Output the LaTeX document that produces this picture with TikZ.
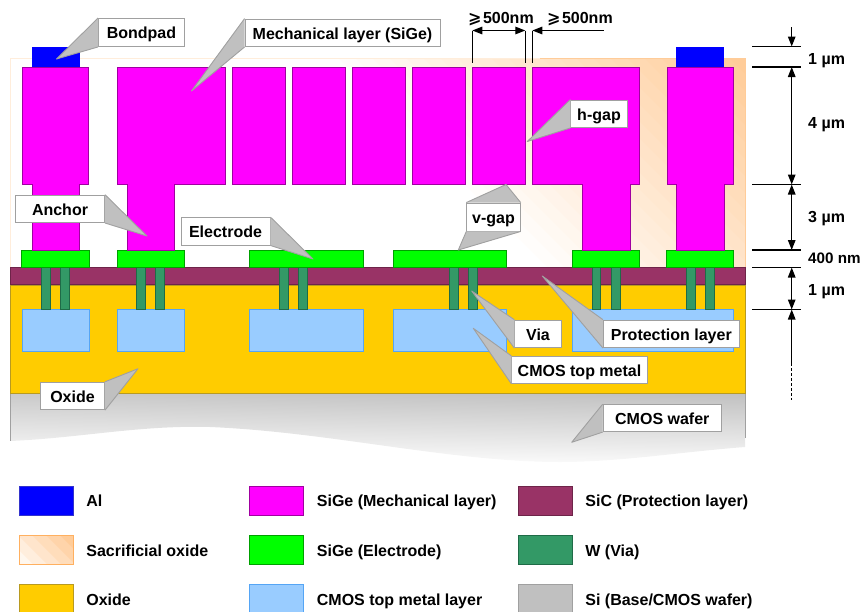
\documentclass[tikz,border=0pt]{standalone}
\usepackage{amsmath}
\usepackage{amssymb}
\usepackage{fontspec}
\setmainfont{Liberation Sans}
\newfontfamily\symbfont{DejaVu Sans}
\usetikzlibrary{arrows.meta,shadings}
\definecolor{mech}{HTML}{FF00FF}
\definecolor{mechline}{HTML}{A000A0}
\definecolor{elec}{HTML}{00FF00}
\definecolor{elecline}{HTML}{00A000}
\definecolor{oxide}{HTML}{FFCC00}
\definecolor{oxideline}{HTML}{B89A20}
\definecolor{metal}{HTML}{99CCFF}
\definecolor{metalline}{HTML}{55A5F5}
\definecolor{sic}{HTML}{993366}
\definecolor{sicline}{HTML}{6E2449}
\definecolor{via}{HTML}{339966}
\definecolor{vialine}{HTML}{1F6B47}
\definecolor{si}{HTML}{C0C0C0}
\definecolor{tagline}{HTML}{A0A0A0}
\definecolor{sacr}{HTML}{FFCC99}
\definecolor{sacrline}{HTML}{FFB060}
\tikzset{
	lab/.style={font=\fontsize{16}{18}\selectfont\bfseries, inner sep=0pt, anchor=west, text height=14pt, text depth=1.4pt},
	tag/.style={draw=tagline, fill=white, line width=0.9pt, inner sep=0pt, font=\fontsize{16}{18}\selectfont\bfseries, text height=14pt, text depth=1.4pt},
	wedge/.style={draw=tagline, fill=si, line width=0.9pt, line join=round},
	tick/.style={line width=1.3pt},
	dim/.style={line width=1.3pt, {Triangle[length=10pt,width=7.5pt]}-{Triangle[length=10pt,width=7.5pt]}},
	swatch/.style={minimum width=54pt, minimum height=29pt, inner sep=0pt, line width=1pt},
}
\begin{document}
\begin{tikzpicture}[x=1pt, y=-1pt]
	\useasboundingbox (0,0) rectangle (861,611);
	% layers
	\begin{scope}
		\clip (10,58.5) rectangle (745,267);
		\foreach \k in {1,...,24} {
			\pgfmathsetmacro{\dd}{280+(\k-1)*17}
			\pgfmathsetmacro{\pct}{\k*100/24}
			\fill[sacr!\pct] (\dd+58.5,58.5) -- (\dd+267,267) -- (800,267) -- (800,58.5) -- cycle;
		}
	\end{scope}
	\draw[sacr!35, line width=0.7pt] (10,267) -- (10,58.5) -- (540,58.5);
	\draw[sacr, line width=0.7pt] (540,58.5) -- (745,58.5) -- (745,267);
	\begin{scope}
		\clip (10,393) -- (745,393) -- (745,447) .. controls (680,452) and (620,462) .. (560,462) .. controls (450,462) and (330,432) .. (210,427) .. controls (140,425) and (80,438) .. (10,441) -- cycle;
		\shade[upper left=si!85, upper right=si, lower left=white, lower right=si!8] (10,393) rectangle (745,465);
	\end{scope}
	\draw[tagline, line width=0.8pt] (10,393) -- (10,441);
	\draw[tagline, line width=0.8pt] (745,393) -- (745,438);
	\draw[fill=oxide, draw=oxideline, line width=0.7pt] (10,285) rectangle (745,393);
	\draw[fill=sic, draw=sicline, line width=0.7pt] (10,267.5) rectangle (745,284.5);
	% metal
	\foreach \xa/\xb in {22/89, 117/184, 249.5/363, 393.5/506.7, 572.3/733}
		\draw[fill=metal, draw=metalline, line width=0.8pt] (\xa,309.5) rectangle (\xb,351.5);
	% vias
	\foreach \xa in {41.5, 60.5, 136.5, 155.5, 279.5, 298.5, 449.5, 468.5, 592, 611.5, 686.5, 705.5}
		\draw[fill=via, draw=vialine, line width=0.8pt] (\xa,267.5) rectangle (\xa+8.5,309.5);
	% electrodes
	\foreach \xa/\xb in {21.5/89, 117/184, 249.5/363.5, 393/506.7, 572.3/639.7, 666.7/733.7}
		\draw[fill=elec, draw=elecline, line width=0.8pt] (\xa,250.5) rectangle (\xb,267.5);
	% mechanical layer
	\foreach \xa/\xb/\xc/\xd in {22.5/32/79/88, 117/127/174/225.5, 532.3/582.7/630/639, 667.3/676.7/724/733}
		\draw[fill=mech, draw=mechline, line width=0.8pt] (\xa,67) -- (\xd,67) -- (\xd,184.5) -- (\xc,184.5) -- (\xc,250.5) -- (\xb,250.5) -- (\xb,184.5) -- (\xa,184.5) -- cycle;
	\foreach \xa/\xb in {232.5/285.5, 292.5/345.5, 352.5/405.5, 412.5/465.5, 472.3/525.3}
		\draw[fill=mech, draw=mechline, line width=0.8pt] (\xa,67) rectangle (\xb,184.5);
	% bondpads
	\foreach \xa in {31.5, 676.3}
		\fill[blue] (\xa,46.5) rectangle (\xa+48,67);
	% gap dimensions
	\coordinate (g1) at (472.3,30.5);
	\coordinate (g2) at (525.3,30.5);
	\coordinate (g3) at (532.3,30.5);
	\coordinate (g4) at (603.5,30.5);
	\coordinate (g1b) at (472.3,63);
	\coordinate (g2b) at (525.3,63);
	\coordinate (g3b) at (532.3,63);
	\draw[tick] (g1) -- (g1b);
	\draw[tick] (g2) -- (g2b);
	\draw[tick] (g3) -- (g3b);
	\draw[dim] (g1) -- (g2);
	\draw[tick, {Triangle[length=10pt,width=7.5pt]}-] (g3) -- (g4);
	\node[lab] (w1) at (468,17.3) {{\symbfont ⩾}\hspace{-3pt} 500nm};
	\node[lab] (w2) at (547,17.3) {{\symbfont ⩾}\hspace{-3pt} 500nm};
	% height dimensions
	\foreach \nm/\yy in {a/46.5, b/67, c/184.5, d/250, e/267.5, f/309.5} {
		\coordinate (\nm) at (791.7,\yy);
		\coordinate (\nm l) at (752.3,\yy);
		\coordinate (\nm r) at (800.7,\yy);
		\draw[tick] (\nm l) -- (\nm r);
	}
	\coordinate (top) at (791.7,27);
	\coordinate (low) at (791.7,363);
	\coordinate (end) at (791.7,400);
	\draw[tick, -{Triangle[length=10pt,width=7.5pt]}] (top) -- (a);
	\draw[dim] (b) -- (c);
	\draw[dim] (c) -- (d);
	\draw[dim] (e) -- (f);
	\draw[tick, {Triangle[length=10pt,width=7.5pt]}-] (f) -- (low);
	\draw[tick, densely dashed] (low) -- (end);
	\node[lab] (h1) at (808,57.7) {1 µm};
	\node[lab] (h2) at (808,122) {4 µm};
	\node[lab] (h3) at (808,216.4) {3 µm};
	\node[lab, font=\fontsize{15.2}{18}\selectfont\bfseries] (h4) at (808,257) {400 nm};
	\node[lab] (h5) at (808,288.7) {1 µm};
	% callouts
	\node[tag, minimum width=86pt, minimum height=28pt] (bondpad) at (141.5,32.5) {Bondpad};
	\coordinate (bondpadtip) at (56.5,59);
	\draw[wedge] (bondpad.north west) -- (bondpadtip) -- (bondpad.south west);
	\node[tag, minimum width=195pt, minimum height=27.5pt] (mechtag) at (342.5,32.8) {Mechanical layer (SiGe)};
	\coordinate (mechtip) at (191.5,91);
	\draw[wedge] (mechtag.north west) -- (mechtip) -- (mechtag.south west);
	\node[tag, minimum width=89pt, minimum height=27.5pt] (anchor) at (60,208.8) {Anchor};
	\coordinate (anchortip) at (147,236);
	\draw[wedge] (anchor.north east) -- (anchortip) -- (anchor.south east);
	\node[tag, minimum width=89pt, minimum height=27.5pt] (electrode) at (225.5,231.3) {Electrode};
	\coordinate (electrodetip) at (313,259);
	\draw[wedge] (electrode.north east) -- (electrodetip) -- (electrode.south east);
	\node[tag, minimum width=53.5pt, minimum height=28pt] (vgap) at (493.5,217) {v-gap};
	\coordinate (vgaptop) at (506,184.5);
	\coordinate (vgapbot) at (458.3,250);
	\draw[wedge] (vgap.north west) -- (vgaptop) -- (vgap.north east);
	\draw[wedge] (vgap.south west) -- (vgapbot) -- (vgap.south east);
	\node[tag, minimum width=56.5pt, minimum height=27.5pt] (hgap) at (599,113.8) {h-gap};
	\coordinate (hgaptip) at (527.3,141.5);
	\draw[wedge] (hgap.north west) -- (hgaptip) -- (hgap.south west);
	\node[tag, minimum width=46.5pt, minimum height=27.5pt] (viatag) at (538,333.8) {Via};
	\coordinate (viatip) at (471.7,291);
	\draw[wedge] (viatag.north west) -- (viatip) -- (viatag.south west);
	\node[tag, minimum width=136pt, minimum height=27.5pt] (protect) at (671.3,333.8) {Protection layer};
	\coordinate (protecttip) at (542.3,276);
	\draw[wedge] (protect.north west) -- (protecttip) -- (protect.south west);
	\node[tag, minimum width=135.5pt, minimum height=27pt] (cmosmetal) at (579.5,369.8) {CMOS top metal};
	\coordinate (cmosmetaltip) at (473.3,328.3);
	\draw[wedge] (cmosmetal.north west) -- (cmosmetaltip) -- (cmosmetal.south west);
	\node[tag, minimum width=64pt, minimum height=27.5pt] (oxidetag) at (72.5,396) {Oxide};
	\coordinate (oxidetip) at (138,368.7);
	\draw[wedge] (oxidetag.north east) -- (oxidetip) -- (oxidetag.south east);
	\node[tag, minimum width=118.5pt, minimum height=27pt] (wafer) at (662.3,418.2) {CMOS wafer};
	\coordinate (wafertip) at (571.7,442.3);
	\draw[wedge] (wafer.north west) -- (wafertip) -- (wafer.south west);
	% legend
	\foreach \nm/\xx/\yy/\cl/\ed/\txt in {
		al/46/500.5/blue/blue!60!gray/Al,
		ox/46/599/oxide/oxideline/Oxide,
		mc/276.5/500.5/mech/mechline/SiGe (Mechanical layer),
		el/276.5/550/elec/elecline/SiGe (Electrode),
		mt/276.5/599/metal/metalline/CMOS top metal layer,
		sc/545/500.5/sic/sicline/SiC (Protection layer),
		vi/545/550/via/vialine/W (Via),
		sb/545/599/si/tagline/{Si (Base/CMOS wafer)}} {
		\node[swatch, fill=\cl, draw=\ed] (s\nm) at (\xx,\yy) {};
		\node[lab] (t\nm) at ([xshift=12.7pt]s\nm.east) {\txt};
	}
	\begin{scope}
		\clip (19,535.5) rectangle (73,564.5);
		\foreach \k in {1,...,6} {
			\pgfmathsetmacro{\dd}{-545+(\k-1)*14}
			\pgfmathsetmacro{\pct}{\k*100/6}
			\fill[sacr!\pct] (\dd+535.5,535.5) -- (\dd+564.5,564.5) -- (80,564.5) -- (80,535.5) -- cycle;
		}
	\end{scope}
	\node[swatch, draw=sacrline] (ssa) at (46,550) {};
	\node[lab] (tsa) at ([xshift=12.7pt]ssa.east) {Sacrificial oxide};
\end{tikzpicture}
\end{document}
